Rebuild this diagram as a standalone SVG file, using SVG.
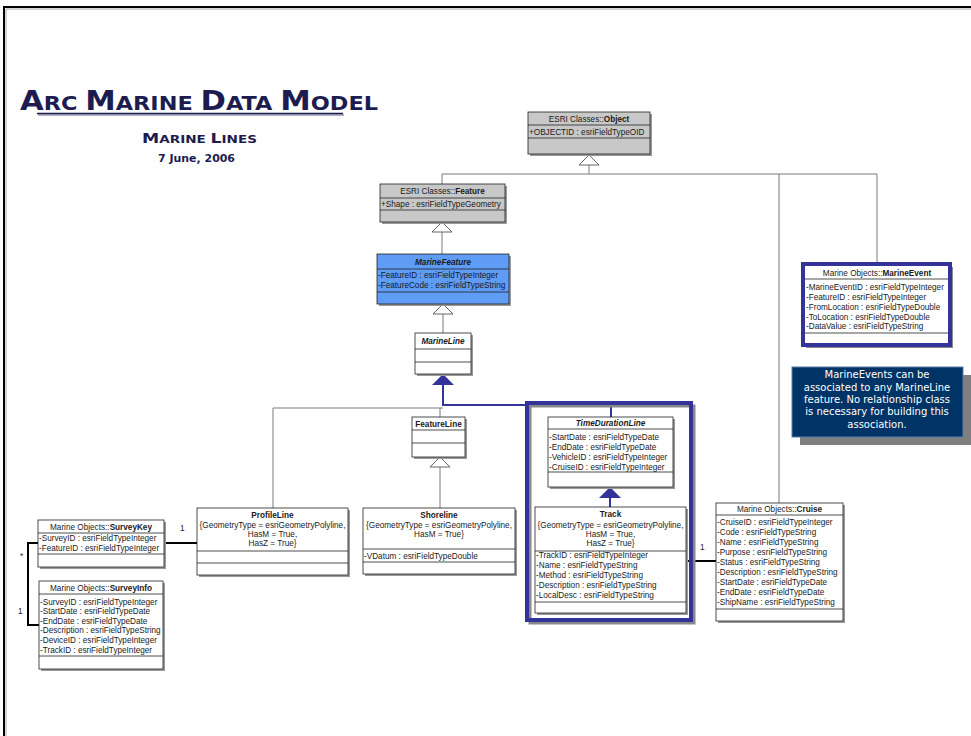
<svg xmlns="http://www.w3.org/2000/svg" width="971" height="736" viewBox="0 0 971 736">
<style>
.bg{fill:#fff}
.box{fill:#fff;stroke:#222;stroke-width:0.8}
.gray{fill:#c8c8c8}
.blue{fill:#5f9cf6}
.sh{fill:#9a9a9a}
.sep{stroke:#222;stroke-width:0.8}
.t{font-family:"Liberation Sans",Arial,sans-serif;font-size:8.2px;fill:#1a1a1a}
.c{text-anchor:middle}
.b{font-weight:bold}
.bi{font-weight:bold;font-style:italic}
.gen{stroke:#7a7a7a;fill:none;stroke-width:1}
.tri{fill:#fff;stroke:#555;stroke-width:0.9}
.nav{stroke:#333399;fill:none;stroke-width:2}
.navtri{fill:#333399}
.assoc{stroke:#000;fill:none;stroke-width:2}
.ttl{font-family:"DejaVu Sans",Verdana,sans-serif;font-weight:bold;fill:#1c1c50}
.note{font-family:"DejaVu Sans",Verdana,sans-serif;font-size:10px;fill:#fff;text-anchor:middle}
</style>
<rect class="bg" x="0" y="0" width="971" height="736"/>
<path d="M4,736 V7 H971" fill="none" stroke="#000" stroke-width="2"/>
<path d="M6,736 V9 H971" fill="none" stroke="#aaa" stroke-width="1"/>

<g id="title">
<text class="ttl" x="20" y="110" textLength="358" lengthAdjust="spacingAndGlyphs"><tspan font-size="26">A</tspan><tspan font-size="19">RC </tspan><tspan font-size="26">M</tspan><tspan font-size="19">ARINE </tspan><tspan font-size="26">D</tspan><tspan font-size="19">ATA </tspan><tspan font-size="26">M</tspan><tspan font-size="19">ODEL</tspan></text>
<line x1="38" y1="115" x2="344" y2="115" stroke="#b0b0c0" stroke-width="2"/>
<line x1="37" y1="113.5" x2="343" y2="113.5" stroke="#1c1c50" stroke-width="1.5"/>
<text class="ttl" x="142" y="143" textLength="115" lengthAdjust="spacingAndGlyphs"><tspan font-size="14">M</tspan><tspan font-size="11">ARINE </tspan><tspan font-size="14">L</tspan><tspan font-size="11">INES</tspan></text>
<text class="ttl" x="158" y="162" font-size="11" textLength="77" lengthAdjust="spacingAndGlyphs">7 June, 2006</text>
</g>

<g id="connectors">
<polyline class="gen" points="589,165 589,174"/>
<polyline class="gen" points="442,184 442,174 877,174 877,262"/>
<polyline class="gen" points="779,174 779,503"/>
<polygon class="tri" points="589,155 579,165 599,165"/>
<polyline class="gen" points="442,232 442,254"/>
<polygon class="tri" points="442,222 432,232 452,232"/>
<polyline class="gen" points="443,314 443,333"/>
<polygon class="tri" points="443,304 433,314 453,314"/>
<polyline class="gen" points="273,508 273,408 443,408"/>
<polyline class="gen" points="440,408 440,417"/>
<polyline class="nav" points="443,384 443,405 611,405 611,417"/>
<polygon class="navtri" points="443,374 432,385 454,385"/>
<polyline class="gen" points="440,467 440,508"/>
<polygon class="tri" points="440,457 430,467 450,467"/>
<polyline class="nav" points="610,497 610,507"/>
<polygon class="navtri" points="610,487 599,498 621,498"/>
<polyline class="assoc" points="164,543 197,543"/>
<polyline class="assoc" points="38,543 28,543 28,625 39,625"/>
<polyline class="assoc" points="686,561 716,561"/>
<text class="t" x="180" y="531">1</text>
<text class="t" x="20" y="559">*</text>
<text class="t" x="18" y="614">1</text>
<text class="t" x="700" y="550">1</text>
<text class="t" x="670" y="581">*</text>
</g>

<g id="package">
<rect x="530" y="406" width="164" height="217" fill="none" stroke="#888" stroke-width="3"/>
<rect x="527" y="403" width="164" height="217" fill="none" stroke="#333399" stroke-width="4"/>
</g>

<g id="Object">
<rect class="sh" x="530" y="114" width="122" height="42"/>
<rect class="box gray" x="528" y="112" width="122" height="42"/>
<line class="sep" x1="528" y1="125" x2="650" y2="125"/>
<line class="sep" x1="528" y1="138" x2="650" y2="138"/>
<text class="t c" x="589" y="122">ESRI Classes::<tspan class="b">Object</tspan></text>
<text class="t" x="529" y="135">+OBJECTID : esriFieldTypeOID</text>
</g>

<g id="Feature">
<rect class="sh" x="382" y="186" width="125" height="38"/>
<rect class="box gray" x="380" y="184" width="125" height="38"/>
<line class="sep" x1="380" y1="198" x2="505" y2="198"/>
<line class="sep" x1="380" y1="210" x2="505" y2="210"/>
<text class="t c" x="442.5" y="194">ESRI Classes::<tspan class="b">Feature</tspan></text>
<text class="t" x="381" y="207">+Shape : esriFieldTypeGeometry</text>
</g>

<g id="MarineFeature">
<rect class="sh" x="379" y="256" width="132" height="50"/>
<rect class="box blue" x="377" y="254" width="132" height="50"/>
<line class="sep" x1="377" y1="269" x2="509" y2="269"/>
<line class="sep" x1="377" y1="292" x2="509" y2="292"/>
<text class="t c bi" x="443" y="265">MarineFeature</text>
<text class="t" x="378" y="278">-FeatureID : esriFieldTypeInteger</text>
<text class="t" x="378" y="288">-FeatureCode : esriFieldTypeString</text>
</g>

<g id="MarineLine">
<rect class="sh" x="417" y="335" width="56" height="41"/>
<rect class="box" x="415" y="333" width="56" height="41"/>
<line class="sep" x1="415" y1="349" x2="471" y2="349"/>
<line class="sep" x1="415" y1="362" x2="471" y2="362"/>
<text class="t c bi" x="443" y="344">MarineLine</text>
</g>

<g id="FeatureLine">
<rect class="sh" x="414" y="419" width="53" height="40"/>
<rect class="box" x="412" y="417" width="53" height="40"/>
<line class="sep" x1="412" y1="430" x2="465" y2="430"/>
<line class="sep" x1="412" y1="443" x2="465" y2="443"/>
<text class="t c b" x="438.5" y="427">FeatureLine</text>
</g>

<g id="TimeDurationLine">
<rect class="sh" x="550" y="419" width="125" height="70"/>
<rect class="box" x="548" y="417" width="125" height="70"/>
<line class="sep" x1="548" y1="429" x2="673" y2="429"/>
<line class="sep" x1="548" y1="472" x2="673" y2="472"/>
<text class="t c bi" x="610.5" y="426">TimeDurationLine</text>
<text class="t" x="549" y="440">-StartDate : esriFieldTypeDate</text>
<text class="t" x="549" y="450">-EndDate : esriFieldTypeDate</text>
<text class="t" x="549" y="460">-VehicleID : esriFieldTypeInteger</text>
<text class="t" x="549" y="470">-CruiseID : esriFieldTypeInteger</text>
</g>

<g id="MarineEvent">
<rect x="806" y="267" width="147" height="81" fill="#8a8a8a"/>
<rect x="803" y="264" width="147" height="81" fill="#fff" stroke="#333399" stroke-width="4"/>
<line class="sep" x1="805" y1="279" x2="948" y2="279"/>
<line class="sep" x1="805" y1="333" x2="948" y2="333"/>
<text class="t c" x="877" y="276">Marine Objects::<tspan class="b">MarineEvent</tspan></text>
<text class="t" x="806" y="290">-MarineEventID : esriFieldTypeInteger</text>
<text class="t" x="806" y="300">-FeatureID : esriFieldTypeInteger</text>
<text class="t" x="806" y="310">-FromLocation : esriFieldTypeDouble</text>
<text class="t" x="806" y="320">-ToLocation : esriFieldTypeDouble</text>
<text class="t" x="806" y="329">-DataValue : esriFieldTypeString</text>
</g>

<g id="note">
<rect x="800" y="375" width="171" height="70" fill="#7f7f7f"/>
<rect x="792" y="367" width="171" height="70" fill="#003366" stroke="#5a7fa8" stroke-width="1"/>
<text class="note" x="877" y="378">MarineEvents can be</text>
<text class="note" x="877" y="391">associated to any MarineLine</text>
<text class="note" x="877" y="403">feature. No relationship class</text>
<text class="note" x="877" y="415">is necessary for building this</text>
<text class="note" x="877" y="428">association.</text>
</g>

<g id="ProfileLine">
<rect class="sh" x="199" y="510" width="151" height="67"/>
<rect class="box" x="197" y="508" width="151" height="67"/>
<line class="sep" x1="197" y1="551" x2="348" y2="551"/>
<line class="sep" x1="197" y1="563" x2="348" y2="563"/>
<text class="t c b" x="272.5" y="518">ProfileLine</text>
<text class="t c" x="272.5" y="528">{GeometryType = esriGeometryPolyline,</text>
<text class="t c" x="272.5" y="537">HasM = True,</text>
<text class="t c" x="272.5" y="546">HasZ = True}</text>
</g>

<g id="Shoreline">
<rect class="sh" x="365" y="510" width="152" height="66"/>
<rect class="box" x="363" y="508" width="152" height="66"/>
<line class="sep" x1="363" y1="549" x2="515" y2="549"/>
<line class="sep" x1="363" y1="562" x2="515" y2="562"/>
<text class="t c b" x="439" y="518">Shoreline</text>
<text class="t c" x="439" y="528">{GeometryType = esriGeometryPolyline,</text>
<text class="t c" x="439" y="537">HasM = True}</text>
<text class="t" x="364" y="559">-VDatum : esriFieldTypeDouble</text>
</g>

<g id="Track">
<rect class="sh" x="537" y="509" width="151" height="106"/>
<rect class="box" x="535" y="507" width="151" height="106"/>
<line class="sep" x1="535" y1="551" x2="686" y2="551"/>
<line class="sep" x1="535" y1="602" x2="686" y2="602"/>
<text class="t c b" x="610.5" y="517">Track</text>
<text class="t c" x="610.5" y="528">{GeometryType = esriGeometryPolyline,</text>
<text class="t c" x="610.5" y="537">HasM = True,</text>
<text class="t c" x="610.5" y="546">HasZ = True}</text>
<text class="t" x="536" y="558">-TrackID : esriFieldTypeInteger</text>
<text class="t" x="536" y="568">-Name : esriFieldTypeString</text>
<text class="t" x="536" y="578">-Method : esriFieldTypeString</text>
<text class="t" x="536" y="588">-Description : esriFieldTypeString</text>
<text class="t" x="536" y="598">-LocalDesc : esriFieldTypeString</text>
</g>

<g id="Cruise">
<rect class="sh" x="718" y="505" width="127" height="118"/>
<rect class="box" x="716" y="503" width="127" height="118"/>
<line class="sep" x1="716" y1="515" x2="843" y2="515"/>
<line class="sep" x1="716" y1="609" x2="843" y2="609"/>
<text class="t c" x="779.5" y="512">Marine Objects::<tspan class="b">Cruise</tspan></text>
<text class="t" x="717" y="525">-CruiseID : esriFieldTypeInteger</text>
<text class="t" x="717" y="535">-Code : esriFieldTypeString</text>
<text class="t" x="717" y="545">-Name : esriFieldTypeString</text>
<text class="t" x="717" y="555">-Purpose : esriFieldTypeString</text>
<text class="t" x="717" y="565">-Status : esriFieldTypeString</text>
<text class="t" x="717" y="575">-Description : esriFieldTypeString</text>
<text class="t" x="717" y="585">-StartDate : esriFieldTypeDate</text>
<text class="t" x="717" y="595">-EndDate : esriFieldTypeDate</text>
<text class="t" x="717" y="605">-ShipName : esriFieldTypeString</text>
</g>

<g id="SurveyKey">
<rect class="sh" x="40" y="522" width="126" height="47"/>
<rect class="box" x="38" y="520" width="126" height="47"/>
<line class="sep" x1="38" y1="533" x2="164" y2="533"/>
<line class="sep" x1="38" y1="554" x2="164" y2="554"/>
<text class="t c" x="101" y="530">Marine Objects::<tspan class="b">SurveyKey</tspan></text>
<text class="t" x="39" y="541">-SurveyID : esriFieldTypeInteger</text>
<text class="t" x="39" y="551">-FeatureID : esriFieldTypeInteger</text>
</g>

<g id="SurveyInfo">
<rect class="sh" x="41" y="583" width="124" height="88"/>
<rect class="box" x="39" y="581" width="124" height="88"/>
<line class="sep" x1="39" y1="594" x2="163" y2="594"/>
<line class="sep" x1="39" y1="656" x2="163" y2="656"/>
<text class="t c" x="101" y="591">Marine Objects::<tspan class="b">SurveyInfo</tspan></text>
<text class="t" x="40" y="605">-SurveyID : esriFieldTypeInteger</text>
<text class="t" x="40" y="614">-StartDate : esriFieldTypeDate</text>
<text class="t" x="40" y="624">-EndDate : esriFieldTypeDate</text>
<text class="t" x="40" y="633">-Description : esriFieldTypeString</text>
<text class="t" x="40" y="643">-DeviceID : esriFieldTypeInteger</text>
<text class="t" x="40" y="653">-TrackID : esriFieldTypeInteger</text>
</g>
</svg>
